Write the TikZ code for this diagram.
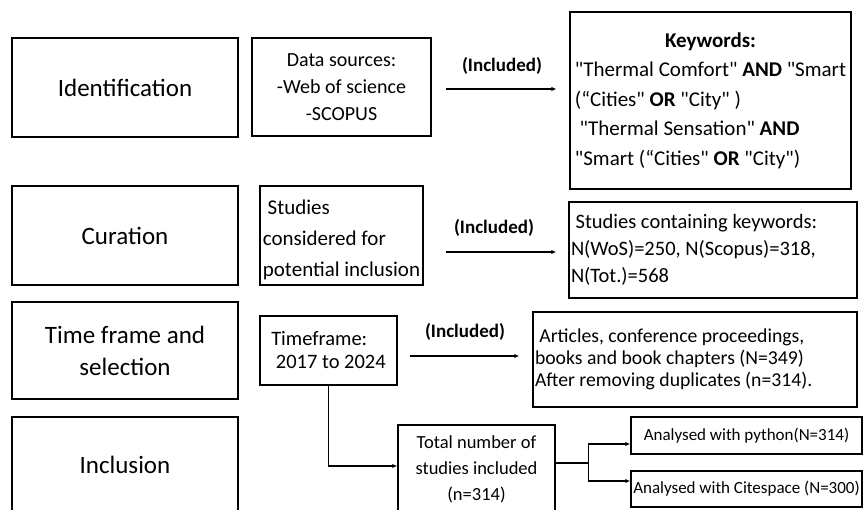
\documentclass[tikz,border=0pt]{standalone}
\usepackage{fontspec}
\setmainfont{Carlito}[Ligatures=TeXOff]
\usetikzlibrary{arrows.meta,calc}
\begin{document}
\begin{tikzpicture}[x=1pt,y=-1pt,
  box/.style={draw,line width=1.5pt,inner sep=0pt,align=center},
  arr/.style={line width=1.3pt,-{Latex[length=5pt,width=4.5pt]}},
  ln/.style={line width=1.3pt},
  lab/.style={font=\bfseries\fontsize{19}{22}\selectfont},
  big/.style={font=\fontsize{25}{32}\selectfont}]
\useasboundingbox (0,0) rectangle (865,509);
\clip (0,0) rectangle (865,509);

% left column
\node[box,big,minimum width=226pt,minimum height=99pt] (idf) at (125,87.5) {Identification};
\node[box,big,minimum width=226pt,minimum height=99pt] (cur) at (125,235.5) {Curation};
\node[box,big,minimum width=226pt,minimum height=97pt] (tf) at (125,350.5) {Time frame and\\selection};
\node[box,big,minimum width=226pt,minimum height=96pt] (inc) at (125,465) {Inclusion};

% middle column
\node[box,minimum width=179pt,minimum height=98pt,font=\fontsize{20}{27}\selectfont] (ds) at (341.5,87) {Data sources:\\-Web of science\\-SCOPUS};
\node[draw,line width=1.5pt,inner sep=0pt,minimum width=163pt,minimum height=99pt,font=\fontsize{21}{31}\selectfont] (sc) at (341.5,235.5)
  {\raisebox{-4pt}[\height][\depth]{\begin{tabular}{@{}l@{}}\ Studies\\considered for\\potential inclusion\end{tabular}}};
\node[box,minimum width=137pt,minimum height=69pt,align=left,font=\fontsize{20.5}{23}\selectfont] (tfb) at (328.5,350.5) {Timeframe:\\\ 2017 to 2024};
\node[box,minimum width=157pt,minimum height=88pt,font=\fontsize{18.5}{26}\selectfont] (tot) at (476.5,469) {Total number of\\studies included\\(n=314)};

% right column
\node[box,line width=1.2pt,minimum width=281pt,minimum height=177pt,font=\fontsize{21}{29.5}\selectfont] (kw) at (710.5,100.5)
  {\begin{tabular}{@{}l@{}}\multicolumn{1}{c}{\textbf{Keywords:}}\\
   "Thermal Comfort" \textbf{AND} "Smart\\
   (“Cities" \textbf{OR} "City" )\\
   \ "Thermal Sensation" \textbf{AND}\\
   "Smart (“Cities" \textbf{OR} "City")\end{tabular}};
\node[box,minimum width=288pt,minimum height=96pt,text width=284pt,inner xsep=2pt,align=flush left,font=\fontsize{20.5}{27}\selectfont] (sck) at (713,250)
  {\ Studies containing keywords:\\N(WoS)=250, N(Scopus)=318,\\N(Tot.)=568};
\node[box,minimum width=324pt,minimum height=95pt,text width=320pt,inner xsep=2pt,align=flush left,font=\fontsize{19.7}{22}\selectfont] (art) at (695,359.5)
  {\ Articles, conference proceedings,\\books and book chapters (N=349)\\After removing duplicates (n=314).};
\node[box,minimum width=231pt,minimum height=37pt,font=\fontsize{17}{19}\selectfont] (py) at (746.5,435.5) {Analysed with python(N=314)};
\node[box,minimum width=231pt,minimum height=36pt,font=\fontsize{17}{19}\selectfont] (cs) at (746.5,489) {Analysed with Citespace (N=300)};

% labels
\node[lab] (l1) at (502,66) {(Included)};
\node[lab] (l2) at (494,228) {(Included)};
\node[lab] (l3) at (465,332) {(Included)};

% connectors
\draw[arr] ($(ds.east)+(14,2)$) -- ($(kw.west)+(-13,-11.5)$);
\draw[arr] ($(sc.east)+(22,16.5)$) -- ($(sck.west)+(-12,2)$);
\draw[arr] ($(tfb.east)+(12,5.5)$) -- ($(art.west)+(-13,-3.5)$);
\draw[arr] (tfb.south) |- ($(tot.west)+(0,-3)$);
\coordinate (J) at ($(tot.east)+(33,-6)$);
\draw[ln] (tot.east |- J) -- (J);
\draw[arr] (J) |- ($(py.west)+(0,8.5)$);
\draw[arr] (J) |- ($(cs.west)+(0,-8)$);
\end{tikzpicture}
\end{document}
